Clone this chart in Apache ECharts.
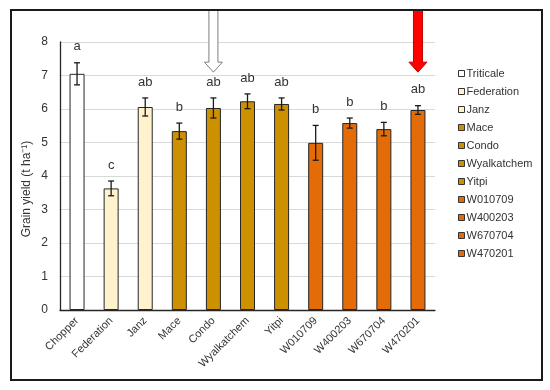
<!DOCTYPE html>
<html>
<head>
<meta charset="utf-8">
<script src="https://cdn.jsdelivr.net/npm/echarts@6/dist/echarts.min.js"></script>
<style>html,body{margin:0;padding:0;background:#fff}#c{width:550px;height:390px}</style>
</head>
<body>
<div id="c"></div>
<script>
var categories = ['Chopper','Federation','Janz','Mace','Condo','Wyalkatchem','Yitpi','W010709','W400203','W670704','W470201'];
var legendNames = ['Triticale','Federation','Janz','Mace','Condo','Wyalkatchem','Yitpi','W010709','W400203','W670704','W470201'];
var yieldValues = [7.05, 3.63, 6.06, 5.34, 6.03, 6.23, 6.15, 4.99, 5.58, 5.40, 5.97];
var yieldErrors = [0.33, 0.22, 0.27, 0.24, 0.30, 0.22, 0.18, 0.52, 0.15, 0.20, 0.13];
var sigLetters = ['a','c','ab','b','ab','ab','ab','b','b','b','ab'];
var barColors = ['#FFFFFF','#FFF2CC','#FFF2CC','#CC9000','#CC9000','#CC9000','#CC9000','#E36C09','#E36C09','#E36C09','#E36C09'];
var arrowCategories = [4, 10];
var arrowColors = ['#FFFFFF', '#FF0000'];
var arrowStroke = ['#7F7F7F', '#C00000'];
var yTicks = [0,1,2,3,4,5,6,7,8];

var chart = echarts.init(document.getElementById('c'));
var FONT = 'Liberation Sans, Arial, sans-serif';

var series = legendNames.map(function (name, i) {
  return {
    name: name,
    type: 'bar',
    stack: 'all',
    barWidth: 15,
    data: categories.map(function (c, j) { return j === i ? yieldValues[j] : '-'; }),
    itemStyle: { color: barColors[i], borderColor: '#262626', borderWidth: 1 },
    emphasis: { disabled: true },
    animation: false
  };
});

series.push({
  type: 'custom',
  name: 'err',
  animation: false,
  silent: true,
  z: 10,
  data: categories.map(function (c, j) { return [j, yieldValues[j], yieldErrors[j], sigLetters[j]]; }),
  renderItem: function (params, api) {
    var x = api.value(0), v = api.value(1), e = api.value(2);
    var top = api.coord([x, v + e]);
    var bot = api.coord([x, v - e]);
    var cx = top[0], w = 3;
    var st = { stroke: '#1a1a1a', lineWidth: 1.3 };
    return {
      type: 'group',
      children: [
        { type: 'line', shape: { x1: cx, y1: top[1], x2: cx, y2: bot[1] }, style: st },
        { type: 'line', shape: { x1: cx - w, y1: top[1], x2: cx + w, y2: top[1] }, style: st },
        { type: 'line', shape: { x1: cx - w, y1: bot[1], x2: cx + w, y2: bot[1] }, style: st },
        { type: 'text', x: cx, y: top[1] - 16, style: { text: sigLetters[params.dataIndex], fill: '#333', font: '13px ' + FONT, align: 'center', verticalAlign: 'middle' } }
      ]
    };
  }
});

var option = {
  animation: false,
  grid: { left: 60, right: 115, top: 42, bottom: 80 },
  xAxis: {
    type: 'category',
    data: categories,
    axisLine: { lineStyle: { color: '#262626', width: 1.3 } },
    axisTick: { show: false },
    axisLabel: { rotate: 45, fontSize: 11, color: '#333', fontFamily: FONT, margin: 9, interval: 0 }
  },
  yAxis: {
    type: 'value',
    min: 0, max: 8, interval: 1,
    axisLine: { show: true, lineStyle: { color: '#262626', width: 1.3 } },
    axisTick: { show: false },
    axisLabel: { fontSize: 12, color: '#333', fontFamily: FONT, margin: 12, formatter: function (v) { return yTicks.indexOf(v) >= 0 ? String(v) : ''; } },
    splitLine: { lineStyle: { color: '#D9D9D9' } }
  },
  legend: {
    orient: 'vertical',
    left: 453, top: 63,
    itemWidth: 6, itemHeight: 6, itemGap: 7,
    icon: 'rect',
    data: legendNames,
    selectedMode: false,
    textStyle: { fontSize: 11, color: '#333', fontFamily: FONT, padding: [0, 0, 0, -3] },
    itemStyle: { borderColor: '#333', borderWidth: 1 }
  },
  series: series
};
chart.setOption(option);

var graphics = [
  { type: 'rect', shape: { x: 11, y: 10, width: 531, height: 370 }, style: { fill: 'none', stroke: '#1a1a1a', lineWidth: 2 }, z: 100 },
  { type: 'text', x: 27, y: 189, rotation: Math.PI / 2, style: { text: 'Grain yield (t ha\u207B\u00B9)', fill: '#333', font: '12px ' + FONT, align: 'center', verticalAlign: 'middle' } }
];
arrowCategories.forEach(function (ci, k) {
  var tip = chart.convertToPixel({ xAxisIndex: 0, yAxisIndex: 0 }, [ci, 7.1]);
  var x = tip[0], ty = tip[1];
  var sw = 4.5, hw = 9, hh = 10, top = 10;
  graphics.push({
    type: 'polygon', z: 90,
    shape: { points: [[x - sw, top], [x + sw, top], [x + sw, ty - hh], [x + hw, ty - hh], [x, ty], [x - hw, ty - hh], [x - sw, ty - hh]] },
    style: { fill: arrowColors[k], stroke: arrowStroke[k], lineWidth: 1 }
  });
});
chart.setOption({ graphic: graphics });
</script>
</body>
</html>
